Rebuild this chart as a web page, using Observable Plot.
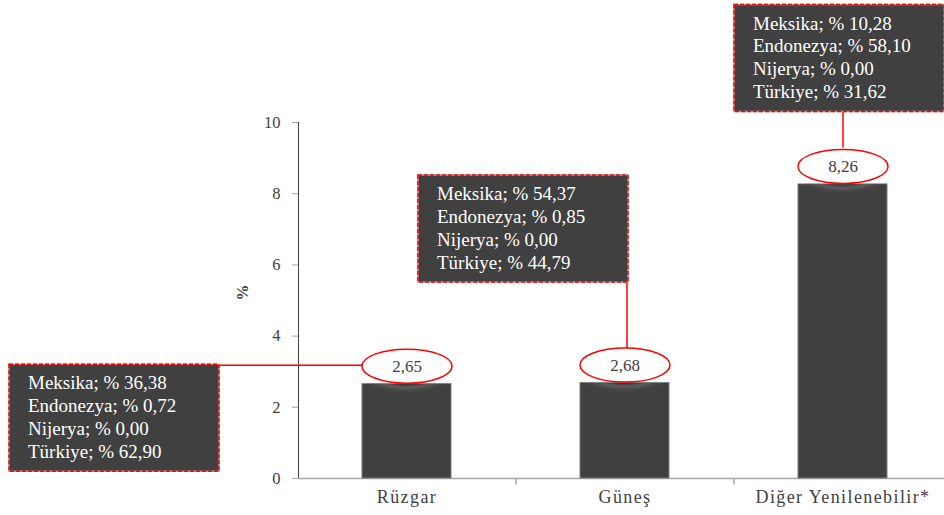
<!DOCTYPE html>
<html><head><meta charset="utf-8">
<script src="https://cdn.jsdelivr.net/npm/d3@7"></script>
<script src="https://cdn.jsdelivr.net/npm/@observablehq/plot@0.6"></script>
<style>
body{margin:0;background:#fff;}
#chart svg{display:block;}
#chart [aria-label^="y-axis"] line, #chart [aria-label^="y-axis"] path {stroke:#a6a6a6;}
#chart [aria-label^="y-axis"] text {font-size:16.5px; fill:#404040;}
#chart [aria-label^="x-axis"] text {font-size:18px; letter-spacing:1.4px; fill:#404040;}
</style></head><body><div id="chart"></div>
<script>
// ---- data ----
const categories = ["Rüzgar", "Güneş", "Diğer Yenilenebilir*"];
const values = [2.65, 2.68, 8.26];
const countries = ["Meksika", "Endonezya", "Nijerya", "Türkiye"];
const shareMeksika = [36.38, 54.37, 10.28];
const shareEndonezya = [0.72, 0.85, 58.10];
const shareNijerya = [0.00, 0.00, 0.00];
const shareTurkiye = [62.90, 44.79, 31.62];
const yTicks = [0, 2, 4, 6, 8, 10];
const yLabel = "%";

const fmt = v => v.toFixed(2).replace(".", ",");
const data = categories.map((c, i) => ({
  category: c, value: values[i], base: 0,
  shares: [shareMeksika[i], shareEndonezya[i], shareNijerya[i], shareTurkiye[i]]
}));

// ---- layout (pixel offsets relative to each bar's top centre) ----
const X_RANGE = [298, 952];
const HALF_STEP = (X_RANGE[1] - X_RANGE[0]) / categories.length / 2;
const BOX_W = 210, BOX_H = 107;
const ELL = {rx: 45, ry: 17, cy: -18};
const layout = [
  {box: [-398, -20], link: [[-188, -19], [-45, -19]]},
  {box: [-207, -208], link: [[2, -102], [2, -35]]},
  {box: [-109, -180], link: [[0, -76], [0, -37]]}
];

const ellipseSym = {draw(ctx) {
  const k = 0.5523, {rx, ry, cy} = ELL;
  ctx.moveTo(rx, cy);
  ctx.bezierCurveTo(rx, cy + k * ry, k * rx, cy + ry, 0, cy + ry);
  ctx.bezierCurveTo(-k * rx, cy + ry, -rx, cy + k * ry, -rx, cy);
  ctx.bezierCurveTo(-rx, cy - k * ry, -k * rx, cy - ry, 0, cy - ry);
  ctx.bezierCurveTo(k * rx, cy - ry, rx, cy - k * ry, rx, cy);
  ctx.closePath();
}};
const rectSym = ([x, y]) => ({draw(ctx) { ctx.rect(x, y, BOX_W, BOX_H); }});
const lineSym = ([[x1, y1], [x2, y2]]) => ({draw(ctx) { ctx.moveTo(x1, y1); ctx.lineTo(x2, y2); }});
const tickSym = {draw(ctx) { ctx.moveTo(-HALF_STEP, 0); ctx.lineTo(-HALF_STEP, 6); }};

const SERIF = "'Liberation Serif', 'Times New Roman', serif";

const annotationMarks = data.flatMap((d, i) => {
  const L = layout[i];
  const opts = {x: "category", y: "value"};
  return [
    Plot.dot([d], {...opts, symbol: lineSym(L.link), fill: "none", stroke: "#ff0000", strokeWidth: 1.5}),
    Plot.dot([d], {...opts, symbol: rectSym(L.box), fill: "#404040", stroke: "#a0a0a0", strokeWidth: 1.5}),
    Plot.dot([d], {...opts, symbol: rectSym(L.box), fill: "none", stroke: "#ff0000", strokeWidth: 1.5, strokeDasharray: "4,2"}),
    Plot.text([d], {...opts,
      text: r => countries.map((c, j) => `${c}; % ${fmt(r.shares[j])}`).join("\n"),
      dx: L.box[0] + 19, dy: L.box[1] + 9, textAnchor: "start", lineAnchor: "top",
      lineHeight: 1.2, fill: "#ffffff", fontSize: 19, fontFamily: SERIF, letterSpacing: "1.8px"})
  ];
});

const chart = Plot.plot({
  width: 944, height: 515,
  marginLeft: 298, marginRight: 0, marginTop: 122, marginBottom: 37,
  style: {fontFamily: SERIF, fontSize: "16px", color: "#404040", background: "#ffffff", overflow: "visible"},
  x: {domain: categories, range: X_RANGE, paddingInner: 0.59, paddingOuter: 0.295,
      tickSize: 0, tickPadding: 12, label: null},
  y: {domain: [0, 10], ticks: yTicks, tickSize: 6, tickPadding: 12, label: null, line: true},
  marks: [
    Plot.ruleY([0], {stroke: "#a6a6a6", strokeWidth: 1.5}),
    Plot.dot(data.slice(1), {x: "category", y: "base", symbol: tickSym, stroke: "#a6a6a6", strokeWidth: 1.5, fill: "none"}),
    Plot.barY(data, {x: "category", y: "value", fill: "#404040", stroke: "#7a7a7a", strokeWidth: 1}),
    Plot.barY(data, {x: "category", y1: d => d.value - 0.5, y2: "value", fill: "url(#capGrad)", insetLeft: 1, insetRight: 1, insetTop: 0.5}),
    ...annotationMarks,
    Plot.dot(data, {x: "category", y: "value", symbol: ellipseSym, fill: "#ffffff", stroke: "#ff0000", strokeWidth: 1.5}),
    Plot.text(data, {x: "category", y: "value", dy: ELL.cy, text: d => fmt(d.value), fill: "#404040", fontSize: 17, letterSpacing: "1px"}),
    Plot.text([yLabel], {frameAnchor: "left", dx: -56, rotate: -90, text: d => d, fontWeight: "bold", fontSize: 16, fill: "#404040"})
  ]
});

d3.select(chart).insert("defs", ":first-child").html(
  `<radialGradient id="capGrad" cx="0.5" cy="-0.6" r="1.15" gradientTransform="translate(0.5,0) scale(0.5,1) translate(-0.5,0)" spreadMethod="pad">
     <stop offset="0" stop-color="#3a3a3a"/>
     <stop offset="0.55" stop-color="#3a3a3a"/>
     <stop offset="0.68" stop-color="#5c5c5c"/>
     <stop offset="0.85" stop-color="#474747"/>
     <stop offset="1" stop-color="#404040"/>
   </radialGradient>`);
document.getElementById("chart").appendChild(chart);
</script></body></html>
